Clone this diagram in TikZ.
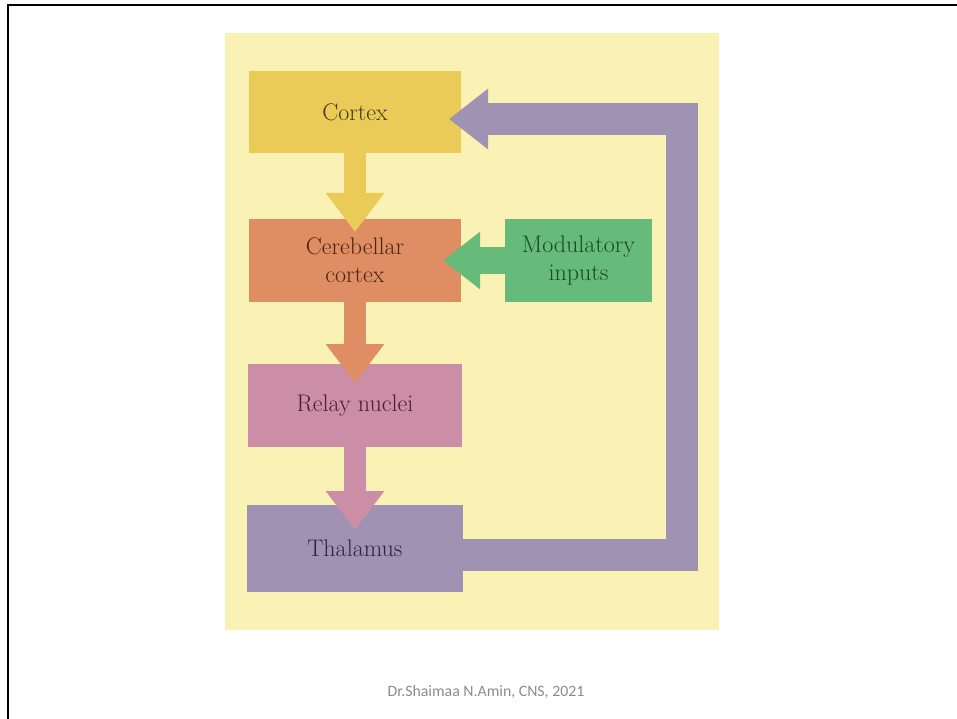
\documentclass[tikz,border=0pt]{standalone}
\usepackage{fontspec}
\newfontfamily\notefont{Carlito}
\usepackage{tikz}
\usetikzlibrary{arrows.meta,positioning,calc}
\definecolor{panelc}{HTML}{FAF1B4}
\definecolor{cortexc}{HTML}{EBCB58}
\definecolor{cerebc}{HTML}{DE8E62}
\definecolor{modulc}{HTML}{66BB7A}
\definecolor{relayc}{HTML}{CC8DA6}
\definecolor{thalc}{HTML}{9F92B2}
\definecolor{cortext}{HTML}{463810}
\definecolor{cerebt}{HTML}{4A2414}
\definecolor{modult}{HTML}{1C4824}
\definecolor{relayt}{HTML}{482034}
\definecolor{thalt}{HTML}{2C2640}
\tikzset
{
    box/.style    = {rectangle, align=center, inner sep=0pt, outer sep=0pt, font=\fontsize{24}{28}\selectfont},
    flow/.style   = {line width=22pt},
    sideflow/.style = {line width=27pt, -{Triangle[width=55pt,length=37pt]}},
    loopflow/.style = {line width=32pt, line join=miter, thalc, -{Triangle[width=58pt,length=39pt]}},
    downtip/.style  = {-{Triangle[width=56pt,length=39pt]}},
    credit/.style = {font=\notefont\fontsize{15.8}{18}\selectfont, text=black!45}
}
\begin{document}
\begin{tikzpicture}[x=1pt, y=-1pt]
	\useasboundingbox (0,0) rectangle (957,719);
	% slide frame and panel
	\draw[line width=2.5pt, line join=miter] (8,719) -- (8,5) -- (957,5);
	\fill[panelc] (225,33) rectangle (719,630);
	% boxes
	\node[box, fill=cortexc, text=cortext, minimum width=212pt, minimum height=82pt] (cortex) at (355,112) {Cortex};
	\node[box, fill=cerebc, text=cerebt, minimum width=212pt, minimum height=83pt, below=66pt of cortex] (cereb) {Cerebellar\\cortex};
	\node[box, fill=modulc, text=modult, minimum width=147pt, minimum height=83pt, right=44pt of cereb] (modul) {Modulatory\\inputs};
	\node[box, fill=relayc, text=relayt, minimum width=214pt, minimum height=83pt, below=62pt of cereb] (relay) {Relay nuclei};
	\node[box, fill=thalc, text=thalt, minimum width=216pt, minimum height=87pt, below=58pt of relay] (thal) {Thalamus};
	% arrows
	\draw[flow, downtip, cortexc] (cortex.south) -- ([yshift=-13pt]cereb.north);
	\draw[flow, downtip, cerebc] (cereb.south) -- ([yshift=-19pt]relay.north);
	\draw[flow, downtip, relayc] (relay.south) -- ([yshift=-25pt]thal.north);
	\draw[sideflow, modulc] (modul.west) -- ([xshift=-18pt]cereb.east);
	\coordinate (rail) at (682,0);
	\coordinate (lq) at ($(cortex.east)+(-12,7)$);
	\draw[loopflow] ($(thal.east)+(0,6.5)$) coordinate (lp) -- (lp -| rail) -- (rail |- lq) -- (lq);
	% footer
	\node[credit] (note) at (486,692) {Dr.Shaimaa N.Amin, CNS, 2021};
\end{tikzpicture}
\end{document}
